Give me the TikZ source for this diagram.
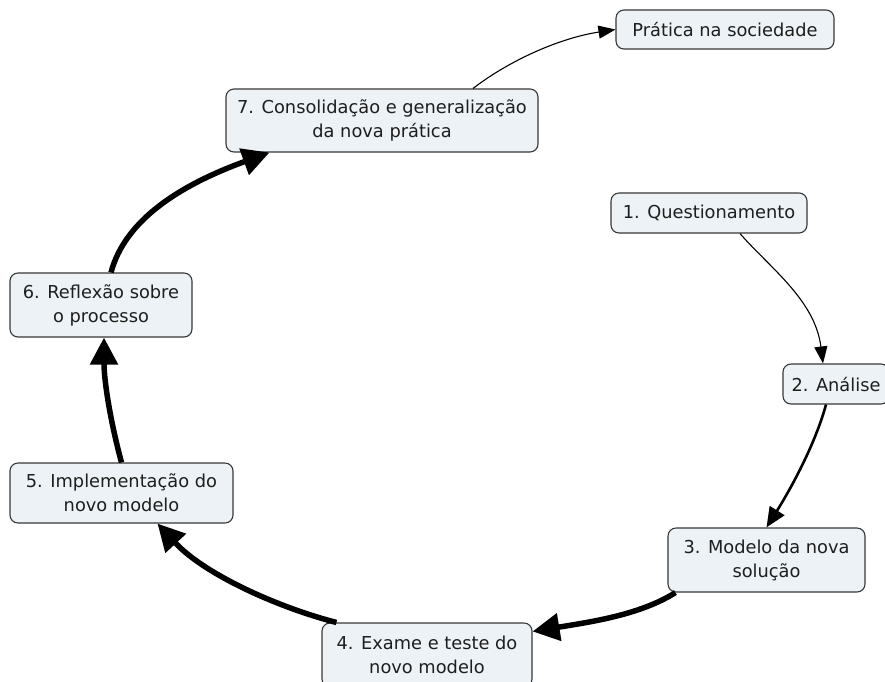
\documentclass[tikz,border=0pt]{standalone}
\usepackage{fontspec}
\setmainfont{DejaVu Sans}
\usepackage{xcolor}
\usetikzlibrary{arrows.meta}
\definecolor{boxfill}{RGB}{236,242,245}
\definecolor{boxline}{RGB}{55,55,55}
\definecolor{textdark}{RGB}{30,30,30}

\begin{document}
\begin{tikzpicture}[x=1pt, y=-1pt,
    concept/.style={draw=boxline, fill=boxfill, line width=1.1pt, rounded corners=8pt,
        align=center, text=textdark, inner sep=0pt,
        font=\fontsize{17.8}{24}\selectfont},
    thinlink/.style={line width=1.1pt, -{Triangle[length=17pt, width=13pt]}},
    midlink/.style={line width=2.6pt, -{Triangle[length=20pt, width=17pt]}},
    thicklink/.style={line width=5.5pt, -{Triangle[length=27pt, width=27pt]}}
]
\useasboundingbox (0,0) rectangle (885,681);

\node[concept, minimum width=218pt, minimum height=39pt] (praxis) at (725,29.5) {Prática na sociedade};
\node[concept, minimum width=312pt, minimum height=63pt] (seven) at (382,120.5) {7. Consolidação e generalização\\da nova prática};
\node[concept, minimum width=196pt, minimum height=40pt] (one) at (709,213) {1. Questionamento};
\node[concept, minimum width=106pt, minimum height=40pt] (two) at (836,384) {2. Análise};
\node[concept, minimum width=197pt, minimum height=64pt] (three) at (766.5,560) {3. Modelo da nova\\solução};
\node[concept, minimum width=210pt, minimum height=64pt] (four) at (427,655) {4. Exame e teste do\\novo modelo};
\node[concept, minimum width=223pt, minimum height=60pt] (five) at (121.5,493) {5. Implementação do\\novo modelo};
\node[concept, minimum width=182pt, minimum height=64pt] (six) at (101,305) {6. Reflexão sobre\\o processo};

\draw[thinlink] ([xshift=91pt]seven.north) .. controls (510,60) and (560,38) .. (praxis.west);
\draw[thinlink] ([xshift=31pt]one.south) .. controls (770,268) and (815,300) .. ([xshift=-13pt]two.north);
\draw[midlink] ([xshift=-10pt]two.south) .. controls (815,445) and (790,490) .. (three.north);
\draw[thicklink] ([xshift=8pt]three.south west) .. controls (640,615) and (590,622) .. ([yshift=-9pt]four.north east);
\draw[thicklink] ([xshift=15pt]four.north west) .. controls (280,608) and (205,575) .. ([xshift=36pt]five.south);
\draw[thicklink] (five.north) .. controls (110,420) and (104,380) .. ([xshift=3pt]six.south);
\draw[thicklink] ([xshift=10pt]six.north) .. controls (125,220) and (180,185) .. ([xshift=44pt]seven.south west);

\end{tikzpicture}
\end{document}
